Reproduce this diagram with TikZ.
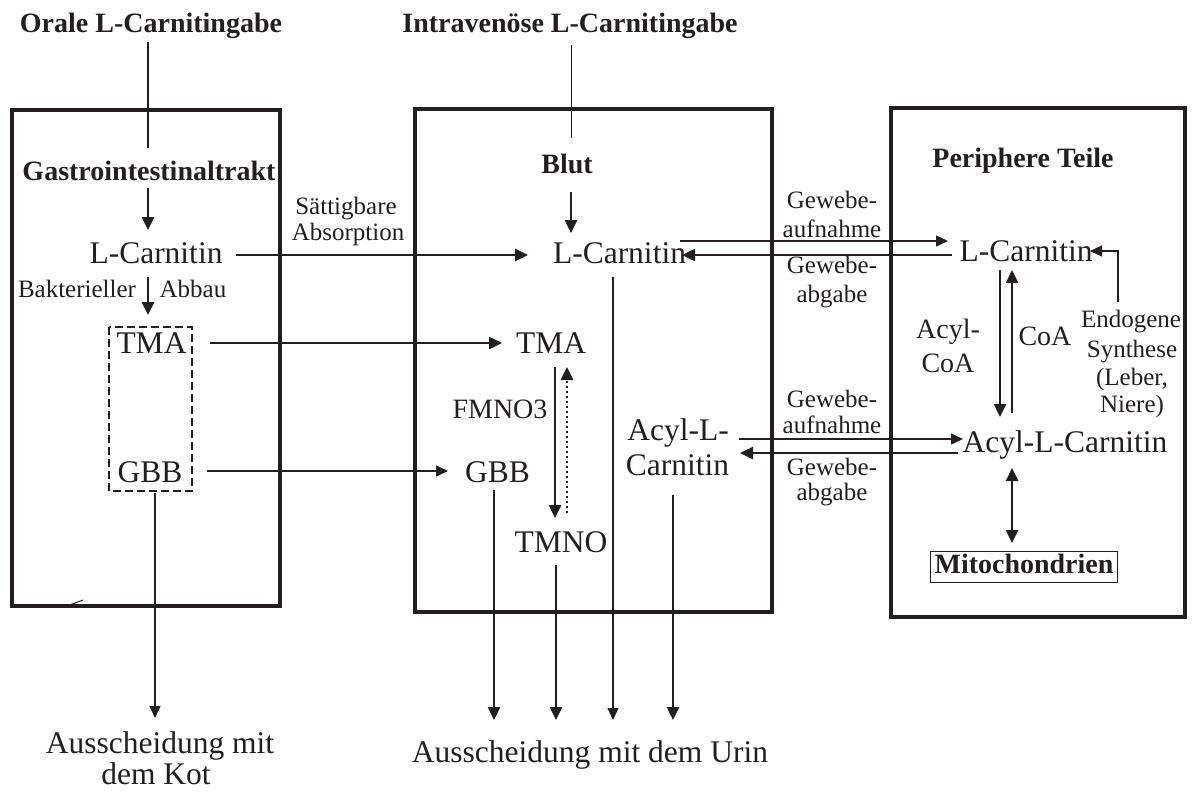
\documentclass[tikz,border=0pt]{standalone}
\usepackage{fontspec}
\setmainfont{Liberation Serif}
\usetikzlibrary{arrows.meta,calc}
\definecolor{ink}{RGB}{35,31,32}
\begin{document}
\begin{tikzpicture}[x=1pt,y=-1pt,
  txt/.style={inner sep=0pt, anchor=base, text=ink},
  big/.style={txt, font=\fontsize{31.5}{36}\selectfont},
  med/.style={txt, font=\fontsize{28}{32}\selectfont},
  sml/.style={txt, font=\fontsize{25}{28}\selectfont},
  hdr/.style={txt, font=\fontsize{28}{32}\selectfont\bfseries},
  thk/.style={draw=ink, line width=2.5pt, -{Triangle[length=13pt,width=12pt]}},
  thn/.style={draw=ink, line width=1.3pt, -{Triangle[length=12pt,width=11pt]}},
  plain/.style={draw=ink, line width=1.3pt},
  boxline/.style={draw=ink, line width=3.2pt}]
\useasboundingbox (0,0) rectangle (1193,792);

% compartments
\draw[boxline] (12,110) rectangle (280,606);
\draw[boxline] (415,109) rectangle (772,612);
\draw[boxline] (891,108) rectangle (1185,617);
\draw[draw=ink, line width=2.3pt, dash pattern=on 8pt off 4pt] (109,327) rectangle (192,491);
\draw[draw=ink, line width=1pt] (67,606) -- (83,600);

% headings
\node[hdr] (orale) at (151,33) {Orale L-Carnitingabe};
\node[hdr] (iv) at (570,33) {Intravenöse L-Carnitingabe};
\node[hdr] (gastro) at (149,180) {Gastrointestinaltrakt};
\node[hdr] (blut) at (567,173) {Blut};
\node[hdr] (periph) at (1023,167) {Periphere Teile};
\node[hdr, draw=ink, line width=1pt, inner xsep=4pt, inner ysep=2pt, text height=20pt, text depth=7pt] (mito) at (1024,573) {Mitochondrien};

% substances
\node[big] (lcL) at (156,263) {L-Carnitin};
\node[big] (lcM) at (619.5,263) {L-Carnitin};
\node[big] (lcR) at (1026,261) {L-Carnitin};
\node[big] (tmaL) at (151.5,353) {TMA};
\node[big] (gbbL) at (150,482) {GBB};
\node[big] (tmaM) at (551,353) {TMA};
\node[big] (gbbM) at (497.5,482) {GBB};
\node[big] (tmno) at (561,552) {TMNO};
\node[big] (acylM1) at (678,440) {Acyl-L-};
\node[big] (acylM2) at (677.5,475) {Carnitin};
\node[big] (acylR) at (1065,452) {Acyl-L-Carnitin};
\node[big] (kot1) at (160,753) {Ausscheidung mit};
\node[big] (kot2) at (156,784) {dem Kot};
\node[big] (urin) at (590,762) {Ausscheidung mit dem Urin};

% labels
\node[med] (fmno) at (500,418) {FMNO3};
\node[med] (acoa1) at (948,338) {Acyl-};
\node[med] (acoa2) at (948,372) {CoA};
\node[med] (coa) at (1045,345) {CoA};
\node[sml] (endo1) at (1131,327) {Endogene};
\node[sml] (endo2) at (1132,357) {Synthese};
\node[sml] (endo3) at (1132,385) {(Leber,};
\node[sml] (endo4) at (1132,412) {Niere)};
\node[sml] (gauf1) at (832,208) {Gewebe-};
\node[sml] (gauf2) at (832,237) {aufnahme};
\node[sml] (gab1) at (832,273) {Gewebe-};
\node[sml] (gab2) at (832,302) {abgabe};
\node[sml] (gauf3) at (832,407) {Gewebe-};
\node[sml] (gauf4) at (832,433) {aufnahme};
\node[sml] (gab3) at (832,475) {Gewebe-};
\node[sml] (gab4) at (832,500) {abgabe};
\node[sml] (saet1) at (346,214) {Sättigbare};
\node[sml] (saet2) at (348,240) {Absorption};
\node[sml] (bakt) at (77,297) {Bakterieller};
\node[sml] (abbau) at (193,297) {Abbau};

% connectors
\draw[plain] ($(orale.base)+(-3,9)$) -- ($(gastro.base)+(-1,-32)$);
\draw[thk] ($(gastro.base)+(-1,8)$) -- ($(lcL.base)+(-8,-33)$);
\draw[thk] ($(lcL.base)+(-8,14)$) -- ($(tmaL.base)+(-3.5,-38)$);
\draw[thn] ($(gbbL.base)+(5,11)$) -- ($(kot1.base)+(-5,-35)$);
\draw[thk] ($(lcL.base)+(80,-8)$) -- ($(lcM.base)+(-91.5,-8)$);
\draw[thk] ($(tmaL.base)+(58.5,-10)$) -- ($(tmaM.base)+(-49,-10)$);
\draw[thn] ($(gbbL.base)+(57,-11)$) -- ($(gbbM.base)+(-49.5,-11)$);
\draw[draw=ink, line width=1pt] ($(iv.base)+(1,12)$) -- ($(blut.base)+(4,-35)$);
\draw[thk] ($(blut.base)+(4,19)$) -- ($(lcM.base)+(-48.5,-30)$);
\draw[thn] ($(lcM.base)+(60.5,-22)$) -- ($(lcR.base)+(-78,-20)$);
\draw[thk] ($(lcR.base)+(-74,-6)$) -- ($(lcM.base)+(62.5,-8)$);
\draw[thn] ($(lcM.base)+(-6.5,14)$) -- ($(urin.base)+(23,-42)$);
\draw[thk] ($(tmaM.base)+(4,14)$) -- ($(tmno.base)+(-6,-34)$);
\draw[thk, line width=2.8pt, dash pattern=on 2.5pt off 2.5pt] ($(tmno.base)+(6,-39)$) -- ($(tmaM.base)+(16,14)$);
\draw[thk] ($(gbbM.base)+(-3.5,8)$) -- ($(urin.base)+(-96,-42)$);
\draw[thk] ($(tmno.base)+(-5,13)$) -- ($(urin.base)+(-34,-42)$);
\draw[thk] ($(acylM2.base)+(-4.5,20)$) -- ($(urin.base)+(83,-42)$);
\draw[thn] ($(acylM1.base)+(61,-1)$) -- ($(acylR.base)+(-102,-13)$);
\draw[thk] ($(acylR.base)+(-107,1)$) -- ($(acylM2.base)+(62.5,-22)$);
\draw[thk] ($(lcR.base)+(-26,9)$) -- ($(acylR.base)+(-65,-35)$);
\draw[thk] ($(acylR.base)+(-53,-39)$) -- ($(lcR.base)+(-14,9)$);
\draw[thn] ($(endo1.base)+(-13,-25)$) |- ($(lcR.base)+(64,-10)$);
\draw[thk, {Triangle[length=13pt,width=12pt]}-{Triangle[length=13pt,width=12pt]}] ($(acylR.base)+(-53,16)$) -- ($(mito.base)+(-12,-30)$);
\end{tikzpicture}
\end{document}
